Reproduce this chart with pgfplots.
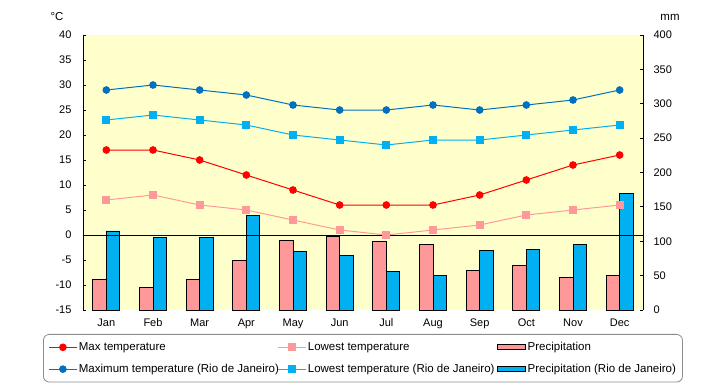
\documentclass[border=0pt]{standalone}
\usepackage{fontspec}
\setmainfont{Liberation Sans}
\usepackage{pgfplots}
\pgfplotsset{compat=1.18}
\definecolor{bg}{HTML}{FFFFCC}
\definecolor{cred}{HTML}{FF0000}
\definecolor{cpink}{HTML}{FF9999}
\definecolor{cblue}{HTML}{0070C0}
\definecolor{ccyan}{HTML}{00B0F0}
\pgfplotsset{
  lineleg/.style={legend image code/.code={\draw[sharp corners,mark repeat=2,mark phase=2,##1] plot coordinates {(0bp,0bp)(14bp,0bp)(28bp,0bp)};}},
  barleg/.style={legend image code/.code={\draw[sharp corners,##1] (0bp,-2.5bp) rectangle (28bp,2.5bp);}},
}
\begin{document}
\begin{tikzpicture}[font=\fontsize{11.5bp}{13bp}\selectfont]
\begin{axis}[
  scale only axis, width=560bp, height=275bp,
  xmin=-0.5, xmax=11.5, ymin=0, ymax=400,
  ytick={0,50,...,400},
  axis y line*=right, axis x line=none,
  axis background/.style={fill=bg},
  tick align=inside, major tick length=3bp,
  tick style={black, line width=0.8bp},
  axis line style={line width=0.8bp},
  /pgf/number format/assume math mode=true,
  ticklabel style={font=\fontsize{11bp}{12bp}\selectfont},
  yticklabel style={xshift=7bp},
  ybar, bar width=13.5bp,
  clip=false,
]
\coordinate (O) at (rel axis cs:0,0);
\addplot[fill=cpink, draw=black, line width=0.8bp, bar shift=-6.75bp] coordinates {
(0,45)(1,33)(2,45)(3,72)(4,101)(5,107)(6,100)(7,96)(8,58)(9,65)(10,48)(11,50)};
\addplot[fill=ccyan, draw=black, line width=0.8bp, bar shift=6.75bp] coordinates {
(0,115)(1,106)(2,106)(3,138)(4,85)(5,80)(6,56)(7,50)(8,87)(9,88)(10,96)(11,170)};
\node[anchor=center] at ([xshift=27bp,yshift=18bp]rel axis cs:1,1) {mm};
\end{axis}
\begin{axis}[
  scale only axis, width=560bp, height=275bp,
  xmin=-0.5, xmax=11.5, ymin=-15, ymax=40,
  ytick={-15,-10,...,40},
  xtick={0,...,11},
  xticklabels={Jan,Feb,Mar,Apr,May,Jun,Jul,Aug,Sep,Oct,Nov,Dec},
  axis y line*=left, axis x line*=bottom,
  x axis line style={draw=none},
  xtick style={draw=none},
  tick align=inside, major tick length=3bp,
  ytick style={black, line width=0.8bp},
  y axis line style={line width=0.8bp},
  /pgf/number format/assume math mode=true,
  ticklabel style={font=\fontsize{11bp}{12bp}\selectfont},
  yticklabel style={xshift=-8bp},
  xticklabel style={yshift=-5bp},
  clip=false,
  legend columns=3,
  legend style={at={(-40/560,-24/275)}, anchor=north west,
    draw=black!45, rounded corners=6bp, line width=0.8bp,
    font=\fontsize{11.5bp}{13bp}\selectfont,
    inner xsep=5bp, inner ysep=6.5bp, row sep=9bp, column sep=0bp,
    nodes={inner sep=1.5bp}},
  legend cell align=left,
]
\addplot[black, line width=0.8bp, forget plot] coordinates {(-0.5,0)(11.5,0)};
\addplot[cred, line width=1bp, mark=*, mark size=3.3bp, lineleg] coordinates {
(0,17)(1,17)(2,15)(3,12)(4,9)(5,6)(6,6)(7,6)(8,8)(9,11)(10,14)(11,16)};
\addlegendentry{\makebox[197bp][l]{Max temperature}}
\addplot[cpink, line width=1bp, mark=square*, mark size=3.4bp, lineleg] coordinates {
(0,7)(1,8)(2,6)(3,5)(4,3)(5,1)(6,0)(7,1)(8,2)(9,4)(10,5)(11,6)};
\addlegendentry{\makebox[188bp][l]{Lowest temperature}}
\addlegendimage{fill=cpink, draw=black, line width=0.8bp, barleg}
\addlegendentry{Precipitation}
\addplot[cblue, line width=1bp, mark=*, mark size=3.3bp, lineleg] coordinates {
(0,29)(1,30)(2,29)(3,28)(4,26)(5,25)(6,25)(7,26)(8,25)(9,26)(10,27)(11,29)};
\addlegendentry{\makebox[197bp][l]{Maximum temperature (Rio de Janeiro)}}
\addplot[ccyan, line width=1bp, mark=square*, mark size=3.4bp, lineleg] coordinates {
(0,23)(1,24)(2,23)(3,22)(4,20)(5,19)(6,18)(7,19)(8,19)(9,20)(10,21)(11,22)};
\addlegendentry{\makebox[188bp][l]{Lowest temperature (Rio de Janeiro)}}
\addlegendimage{fill=ccyan, draw=black, line width=0.8bp, barleg}
\addlegendentry{Precipitation (Rio de Janeiro)}
\node[anchor=center] at ([xshift=-26bp,yshift=18bp]rel axis cs:0,1) {°C};
\end{axis}
\path (O) ++(-83bp,-75bp) rectangle ++(720bp,385bp);
\end{tikzpicture}
\end{document}
